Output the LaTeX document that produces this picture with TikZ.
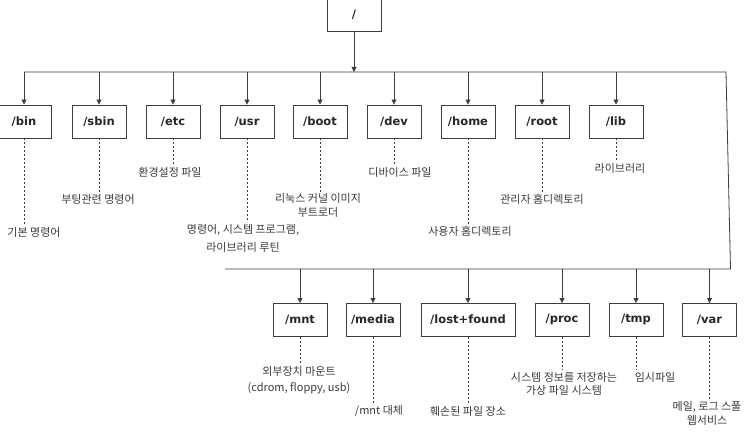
\documentclass[tikz,border=0pt]{standalone}
\usepackage{fontspec}
\setmainfont{DejaVu Sans}
\newfontfamily\korfont{Noto Sans CJK KR}
\usetikzlibrary{arrows.meta, positioning}

\definecolor{linegray}{HTML}{3C3C3C}
\definecolor{textgray}{HTML}{262626}
\definecolor{notegray}{HTML}{3A3A3A}

\tikzset{
  dirbox/.style={draw=linegray, line width=0.9pt, minimum width=54pt, minimum height=33pt,
    inner xsep=3pt, font=\fontsize{11.5}{13}\selectfont\bfseries, text=textgray},
  note/.style={font={\korfont\fontsize{11}{14}\selectfont}, text=notegray, align=center, inner sep=1.5pt},
  branch/.style={draw=linegray, line width=0.8pt, -{Triangle[width=5pt,length=5pt]}},
  bus/.style={draw=linegray, line width=0.8pt},
  leader/.style={draw=linegray, line width=0.8pt, dash pattern=on 2pt off 2pt},
}

\begin{document}
\begin{tikzpicture}[x=1pt, y=-1pt]
\useasboundingbox (0,0) rectangle (744,438);
\clip (0,0) rectangle (744,438);

% root directory
\node[dirbox] (fsroot) at (354,14.5) {/};

% bus lines
\coordinate (busTL) at (24,72);
\coordinate (busTR) at (726,72);
\coordinate (busBR) at (730.5,269);
\coordinate (busBL) at (225,269);
\draw[bus] (busTL) -- (busTR) -- (busBR) -- (busBL);
\draw[branch] (fsroot.south) -- (fsroot.south |- busTL);

% upper row
\foreach \n/\x in {bin/24, sbin/99, etc/173, usr/247, boot/320, dev/394, home/468, root/542, lib/616} {
  \node[dirbox] (\n) at (\x,121.5) {/\n};
  \draw[branch] (\n |- busTL) -- (\n.north);
}

% lower row
\foreach \n/\x/\t/\w in {mnt/300/mnt/54, media/373/media/54, lost/468/lost+found/94, proc/562/proc/54, tmp/636/tmp/54, var/709.5/var/54} {
  \node[dirbox, minimum width=\w pt] (\n) at (\x,320) {/\t};
  \draw[branch] (\n |- busBL) -- (\n.north);
}

% descriptions
\node[note] (lbin) at (34,232) {기본 명령어};
\node[note] (lsbin) at (98,199) {부팅관련 명령어};
\node[note] (letc) at (170,172) {환경설정 파일};
\node[note, font={\korfont\fontsize{11}{18}\selectfont}] (lusr) at (243,238) {명령어, 시스템 프로그램,\\라이브러리 루틴};
\node[note] (lboot) at (318,205.5) {리눅스 커널 이미지\\부트로더};
\node[note] (ldev) at (400,172) {디바이스 파일};
\node[note] (lhome) at (470,231) {사용자 홈디렉토리};
\node[note] (lroot) at (542,199) {관리자 홈디렉토리};
\node[note] (llib) at (620,168) {라이브러리};
\node[note, font={\korfont\fontsize{11}{16}\selectfont}] (lmnt) at (299,380) {외부장치 마운트\\(cdrom, floppy, usb)};
\node[note] (lmedia) at (379,411) {/mnt 대체};
\node[note] (llost) at (468,411) {훼손된 파일 장소};
\node[note, font={\korfont\fontsize{11}{13}\selectfont}] (lproc) at (564,383.5) {시스템 정보를 저장하는\\가상 파일 시스템};
\node[note] (ltmp) at (655,377) {임시파일};
\node[note] (lvar) at (707,413) {메일, 로그 스풀\\웹서비스};

% leaders
\foreach \n in {bin, sbin, etc, usr, boot, dev, home, root, lib, mnt, media, lost, proc, tmp, var}
  \draw[leader] (\n.south) -- (\n.south |- l\n.north);
\end{tikzpicture}
\end{document}
